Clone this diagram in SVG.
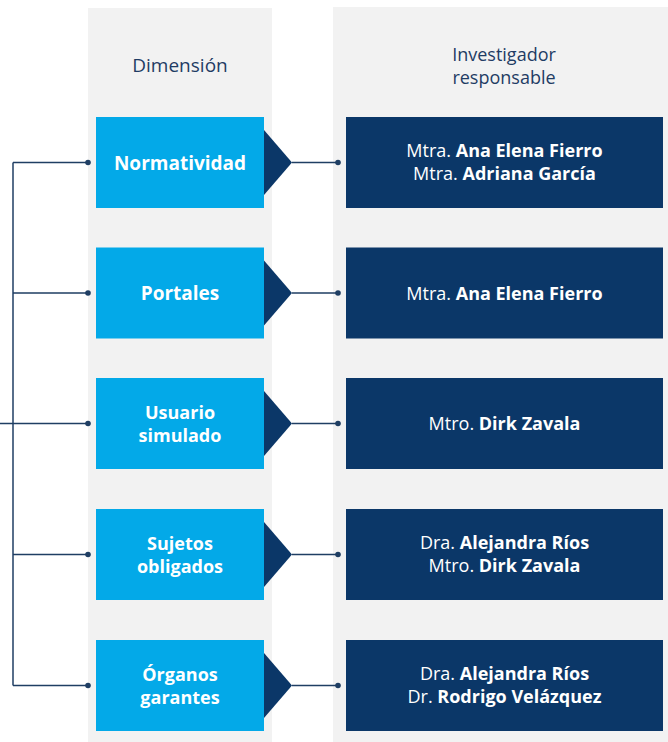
<svg xmlns="http://www.w3.org/2000/svg" width="668" height="742" viewBox="0 0 668 742">
<style>
.bg{fill:#f2f2f2}
.dim{fill:#03a9e8}
.inv{fill:#0b3768}
.tri{fill:#0b3768}
.hdr{font-family:"Open Sans","Noto Sans",sans-serif;font-size:18px;fill:#1f3c64;text-anchor:middle}
.lbl{font-family:"Open Sans","Noto Sans",sans-serif;font-size:18px;font-weight:700;fill:#ffffff;text-anchor:middle}
.lbl1{font-size:19px}
.nm{font-family:"Open Sans","Noto Sans",sans-serif;font-size:18px;fill:#ffffff;text-anchor:middle}
.nm tspan.b{font-weight:700}
.ln{stroke:#1f3e63;stroke-width:1.5;fill:none}
.dot{fill:#1f3e63}
</style>
<rect width="668" height="742" fill="#ffffff"/>
<rect class="bg" x="88" y="8" width="184" height="734"/>
<rect class="bg" x="333" y="7" width="335" height="735"/>
<text class="hdr" x="180" y="72" style="font-size:19px">Dimensión</text>
<text class="hdr" x="504" y="60.5">Investigador</text>
<text class="hdr" x="504" y="83.5">responsable</text>

<g id="connectors">
<path class="ln" d="M13,162.5 V685.5"/>
<path class="ln" d="M13,162.5 H88 M13,293 H88 M0,423.5 H88 M13,554.5 H88 M13,685.5 H88"/>
<circle class="dot" cx="88" cy="162.5" r="2.8"/>
<circle class="dot" cx="88" cy="293" r="2.8"/>
<circle class="dot" cx="88" cy="423.5" r="2.8"/>
<circle class="dot" cx="88" cy="554.5" r="2.8"/>
<circle class="dot" cx="88" cy="685.5" r="2.8"/>
<path class="ln" d="M292,162.5 H338 M292,293 H338 M292,423.5 H338 M292,554.5 H338 M292,685.5 H338"/>
<circle class="dot" cx="338" cy="162.5" r="2.8"/>
<circle class="dot" cx="338" cy="293" r="2.8"/>
<circle class="dot" cx="338" cy="423.5" r="2.8"/>
<circle class="dot" cx="338" cy="554.5" r="2.8"/>
<circle class="dot" cx="338" cy="685.5" r="2.8"/>
</g>

<g id="dim-normatividad">
<rect class="dim" x="96" y="117" width="168" height="91"/>
<polygon class="tri" points="264,130 292,162.5 264,195"/>
<text class="lbl lbl1" x="180" y="169.5">Normatividad</text>
</g>
<g id="dim-portales">
<rect class="dim" x="96" y="247.5" width="168" height="91"/>
<polygon class="tri" points="264,260.5 292,293 264,325.5"/>
<text class="lbl lbl1" x="180" y="300">Portales</text>
</g>
<g id="dim-usuario">
<rect class="dim" x="96" y="378" width="168" height="91"/>
<polygon class="tri" points="264,391 292,423.5 264,456"/>
<text class="lbl" x="180" y="419">Usuario</text>
<text class="lbl" x="180" y="442">simulado</text>
</g>
<g id="dim-sujetos">
<rect class="dim" x="96" y="509" width="168" height="91"/>
<polygon class="tri" points="264,522 292,554.5 264,587"/>
<text class="lbl" x="180" y="550">Sujetos</text>
<text class="lbl" x="180" y="573">obligados</text>
</g>
<g id="dim-organos">
<rect class="dim" x="96" y="640" width="168" height="91"/>
<polygon class="tri" points="264,653 292,685.5 264,718"/>
<text class="lbl" x="180" y="681">Órganos</text>
<text class="lbl" x="180" y="704">garantes</text>
</g>

<g id="inv-1">
<rect class="inv" x="346" y="117" width="317" height="91"/>
<text class="nm" x="504.5" y="157">Mtra. <tspan class="b">Ana Elena Fierro</tspan></text>
<text class="nm" x="504.5" y="180">Mtra. <tspan class="b">Adriana García</tspan></text>
</g>
<g id="inv-2">
<rect class="inv" x="346" y="247.5" width="317" height="91"/>
<text class="nm" x="504.5" y="299.5">Mtra. <tspan class="b">Ana Elena Fierro</tspan></text>
</g>
<g id="inv-3">
<rect class="inv" x="346" y="378" width="317" height="91"/>
<text class="nm" x="504.5" y="430">Mtro. <tspan class="b">Dirk Zavala</tspan></text>
</g>
<g id="inv-4">
<rect class="inv" x="346" y="509" width="317" height="91"/>
<text class="nm" x="504.5" y="549">Dra. <tspan class="b">Alejandra Ríos</tspan></text>
<text class="nm" x="504.5" y="572">Mtro. <tspan class="b">Dirk Zavala</tspan></text>
</g>
<g id="inv-5">
<rect class="inv" x="346" y="640" width="317" height="91"/>
<text class="nm" x="504.5" y="680">Dra. <tspan class="b">Alejandra Ríos</tspan></text>
<text class="nm" x="504.5" y="703">Dr. <tspan class="b">Rodrigo Velázquez</tspan></text>
</g>
</svg>
